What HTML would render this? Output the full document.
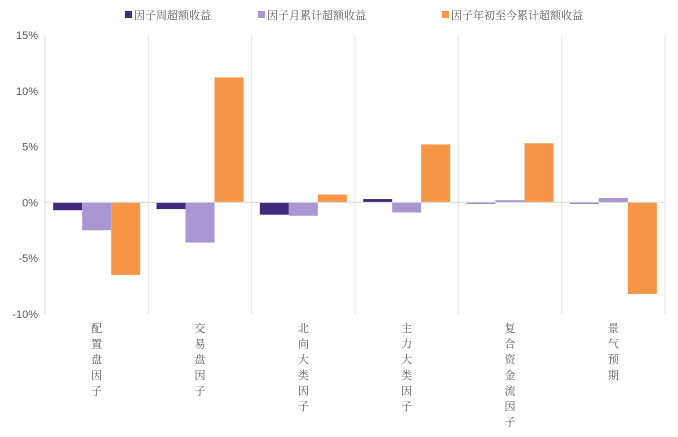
<!DOCTYPE html>
<html><head><meta charset="utf-8"><style>
body{margin:0;background:#fff;}
svg text{font-family:"Liberation Sans","Noto Serif CJK SC","Noto Sans CJK SC",sans-serif;}
</style></head><body>
<svg id="c" width="678" height="432" xmlns="http://www.w3.org/2000/svg"></svg>
<script>
const categories=["配置盘因子","交易盘因子","北向大类因子","主力大类因子","复合资金流因子","景气预期"];
const seriesNames=["因子周超额收益","因子月累计超额收益","因子年初至今累计超额收益"];
const weekly=[-0.7,-0.6,-1.1,0.3,-0.1,-0.1];
const monthly=[-2.5,-3.6,-1.2,-0.9,0.2,0.4];
const ytd=[-6.5,11.2,0.7,5.2,5.3,-8.2];
const yTicks=[15,10,5,0,-5,-10];
const yTickLabels=["15%","10%","5%","0%","-5%","-10%"];
const colors=["#3f2a7d","#a897d0","#f79646"];
const NS="http://www.w3.org/2000/svg",svg=document.getElementById('c');
const L=45,R=665,T=35,B=314,yMin=-10,yMax=15;
const y=v=>T+(yMax-v)/(yMax-yMin)*(B-T);
const cw=(R-L)/categories.length;
function el(t,a,p){const e=document.createElementNS(NS,t);for(const k in a)e.setAttribute(k,a[k]);(p||svg).appendChild(e);return e;}
for(let i=1;i<=categories.length;i++){const g=el('line',{x1:L+i*cw,x2:L+i*cw,y1:T,y2:B,stroke:'#e4e4e4','stroke-width':1});

}
const ax=el('line',{x1:L,x2:L,y1:T,y2:B,stroke:'#d9d9d9'});


yTicks.forEach((t,i)=>{const tx=el('text',{x:L-7,y:y(t)+4,'text-anchor':'end','font-size':11,fill:'#595959'});tx.textContent=yTickLabels[i];

});
const series=[weekly,monthly,ytd];
const bw=29,off=(cw-3*bw)/2;
series.forEach((s,si)=>s.forEach((v,ci)=>{
const x0=L+ci*cw+off+si*bw;const y0=Math.min(y(v),y(0)),h=Math.abs(y(v)-y(0));
const r=el('rect',{x:x0,y:y0,width:bw,height:Math.max(h,1),fill:colors[si]});


}));
const zl=el('line',{x1:L,x2:R,y1:y(0),y2:y(0),stroke:'#d9d9d9'});


categories.forEach((c,ci)=>{const cx=L+ci*cw+cw/2;[...c].forEach((ch,k)=>{
const t=el('text',{x:cx,y:332+k*15.6,'text-anchor':'middle','font-size':11,fill:'#595959'});t.textContent=ch;

});});
const lx=[125,258,442];
seriesNames.forEach((n,i)=>{const r=el('rect',{x:lx[i],y:11,width:7,height:7,fill:colors[i]});


const t=el('text',{x:lx[i]+9,y:19,'font-size':11,fill:'#595959'});t.textContent=n;

});
</script>
</body></html>
